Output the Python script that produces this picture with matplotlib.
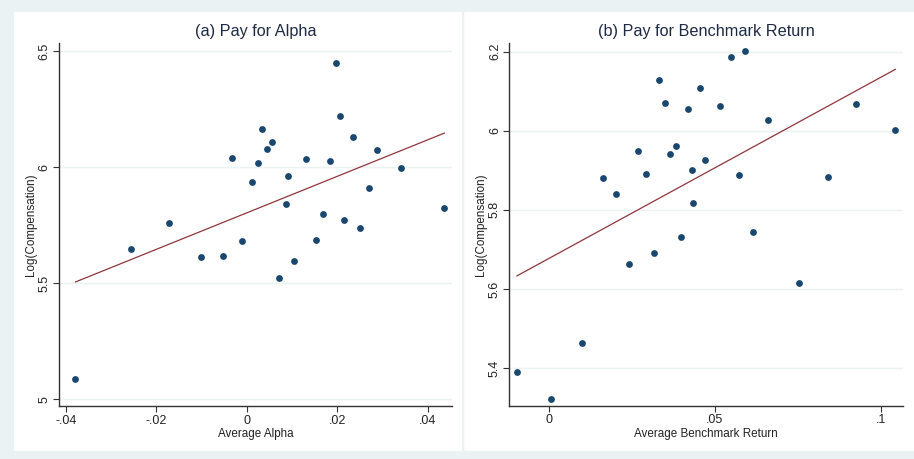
import matplotlib
matplotlib.use('Agg')
import numpy as np
import matplotlib.pyplot as plt
from matplotlib.patches import Rectangle

plt.rcParams['font.family'] = ['Liberation Sans', 'DejaVu Sans']

# panel (a): pay for alpha
alpha = [0.0196, 0.0206, 0.0034, 0.0055, 0.0044, 0.0234, 0.0288, -0.0032,
         0.0025, 0.0130, 0.0184, 0.0340, 0.0011, 0.0091, 0.0270, 0.0086,
         0.0436, 0.0169, 0.0214, 0.0250, -0.0172, -0.0256, -0.0102, -0.0052,
         -0.0011, 0.0152, 0.0105, 0.0071, -0.0379]
comp_a = [6.447, 6.221, 6.165, 6.108, 6.076, 6.128, 6.075, 6.041,
          6.016, 6.033, 6.027, 5.997, 5.934, 5.960, 5.909, 5.842,
          5.823, 5.799, 5.773, 5.737, 5.759, 5.648, 5.613, 5.619,
          5.681, 5.688, 5.596, 5.523, 5.088]

# panel (b): pay for benchmark return
bench = [0.0590, 0.0549, 0.0333, 0.0454, 0.0349, 0.0418, 0.0516, 0.0660,
         0.0925, 0.1043, 0.0268, 0.0382, 0.0366, 0.0470, 0.0293, 0.0430,
         0.0572, 0.0841, 0.0162, 0.0202, 0.0435, 0.0615, 0.0397, 0.0317,
         0.0240, 0.0752, 0.0099, -0.0096, 0.0008]
comp_b = [6.202, 6.187, 6.128, 6.107, 6.070, 6.056, 6.063, 6.028,
          6.067, 6.001, 5.950, 5.962, 5.941, 5.927, 5.890, 5.900,
          5.888, 5.884, 5.881, 5.841, 5.817, 5.745, 5.732, 5.690,
          5.662, 5.616, 5.463, 5.389, 5.322]

xticks_a = [-0.04, -0.02, 0, 0.02, 0.04]
xlabels_a = ['-.04', '-.02', '0', '.02', '.04']
yticks_a = [5, 5.5, 6, 6.5]
ylabels_a = ['5', '5.5', '6', '6.5']
xticks_b = [0, 0.05, 0.1]
xlabels_b = ['0', '.05', '.1']
yticks_b = [5.4, 5.6, 5.8, 6, 6.2]
ylabels_b = ['5.4', '5.6', '5.8', '6', '6.2']

BG = '#eaf2f3'
NAVY = '#1a476f'
MAROON = '#90353b'
TXT = '#1e2a44'

fig = plt.figure(figsize=(9.14, 4.59), dpi=100, facecolor=BG)
W, H = 914, 459
fig.patches.append(Rectangle((14 / W, 1 - 451 / H), 448 / W, 439 / H,
                             transform=fig.transFigure, facecolor='white',
                             edgecolor='none', zorder=-2))
fig.patches.append(Rectangle((464 / W, 1 - 451 / H), 450 / W, 439 / H,
                             transform=fig.transFigure, facecolor='white',
                             edgecolor='none', zorder=-2))

ax_a = fig.add_axes([58.7 / W, 1 - 406.3 / H, 393.3 / W, 363.3 / H])
ax_b = fig.add_axes([509.3 / W, 1 - 406 / H, 393.4 / W, 363 / H])


def panel(ax, x, y, title, xlabel, xt, xl, yt, yl, xlim, ylim, ylab_x):
    ax.set_facecolor('white')
    ax.set_xlim(*xlim)
    ax.set_ylim(*ylim)
    for yy in yt:
        ax.axhline(yy, color=BG, lw=1.0, zorder=0)
    ax.scatter(x, y, s=24, color=NAVY, zorder=3, linewidths=0)
    b, a = np.polyfit(x, y, 1)
    xs = np.array([min(x), max(x)])
    ax.plot(xs, a + b * xs, color=MAROON, lw=0.9, zorder=2)
    ax.set_xticks(xt)
    ax.set_xticklabels(xl)
    ax.set_yticks(yt)
    ax.set_yticklabels(yl, rotation=90, va='center')
    ax.tick_params(direction='out', length=4, width=0.8, color='#333333',
                   labelsize=9, labelcolor='#222222', pad=2)
    for s in ['top', 'right']:
        ax.spines[s].set_visible(False)
    for s in ['left', 'bottom']:
        ax.spines[s].set_color('#333333')
        ax.spines[s].set_linewidth(1.0)
    ax.set_title(title, fontsize=11.7, color=TXT, pad=5)
    ax.set_xlabel(xlabel, fontsize=8.4, color='#222222', labelpad=1)
    ax.set_ylabel('Log(Compensation)', fontsize=8.4, color='#222222')
    ax.yaxis.set_label_coords(ylab_x, 0.5)


panel(ax_a, alpha, comp_a, '(a) Pay for Alpha', 'Average Alpha',
      xticks_a, xlabels_a, yticks_a, ylabels_a, (-0.0416, 0.0453), (4.97, 6.534),
      -0.054)
panel(ax_b, bench, comp_b, '(b) Pay for Benchmark Return', 'Average Benchmark Return',
      xticks_b, xlabels_b, yticks_b, ylabels_b, (-0.0119, 0.1065), (5.304, 6.222),
      -0.056)

fig.lines.append(plt.Line2D([463 / W, 463 / W], [1 - 451 / H, 1 - 12 / H],
                            transform=fig.transFigure, color=BG, lw=1, zorder=-1))

fig.savefig('out.png', dpi=100, facecolor=BG)
